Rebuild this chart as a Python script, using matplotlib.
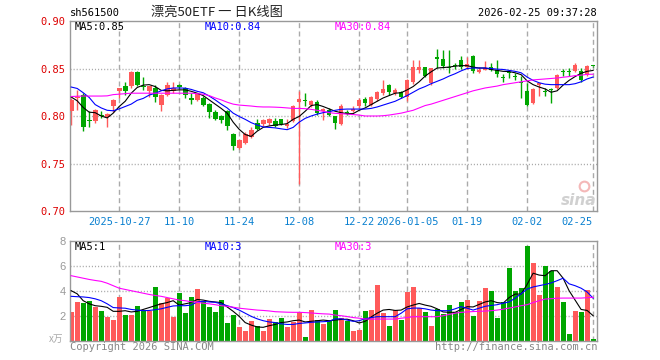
import matplotlib
matplotlib.use("Agg")
import matplotlib.pyplot as plt
import numpy as np

plt.rcParams['lines.scale_dashes'] = False

# daily candles, 2025-10-15 .. 2026-02-25
opens = [0.8048, 0.8190, 0.8223, 0.7955, 0.7944, 0.8005, 0.7990, 0.8108, 0.8259, 0.8311,
         0.8311, 0.8465, 0.8310, 0.8259, 0.8300, 0.8119, 0.8224, 0.8265, 0.8329, 0.8294,
         0.8189, 0.8164, 0.8189, 0.8126, 0.8038, 0.7996, 0.8049, 0.7814, 0.7664, 0.7716,
         0.7779, 0.7926, 0.7919, 0.7926, 0.7944, 0.7968, 0.7900, 0.7944, 0.8143, 0.8162,
         0.8112, 0.8143, 0.8049, 0.8066, 0.7996, 0.7919, 0.8038, 0.8049, 0.8101, 0.8178,
         0.8119, 0.8178, 0.8241, 0.8329, 0.8241, 0.8248, 0.8199, 0.8353, 0.8486, 0.8514,
         0.8346, 0.8609, 0.8598, 0.8521, 0.8535, 0.8591, 0.8514, 0.8633, 0.8458, 0.8486,
         0.8514, 0.8479, 0.8400, 0.8452, 0.8412, 0.8348, 0.8259, 0.8136, 0.8329, 0.8261,
         0.8278, 0.8294, 0.8463, 0.8463, 0.8469, 0.8469, 0.8434, 0.8528]
closes = [0.8171, 0.8205, 0.7884, 0.7950, 0.8066, 0.8000, 0.8024, 0.8171, 0.8293, 0.8259,
          0.8465, 0.8329, 0.8304, 0.8311, 0.8196, 0.8224, 0.8329, 0.8290, 0.8304, 0.8224,
          0.8164, 0.8234, 0.8119, 0.8038, 0.7968, 0.7961, 0.7891, 0.7688, 0.7751, 0.7814,
          0.7856, 0.7863, 0.7961, 0.7968, 0.7898, 0.7919, 0.7920, 0.8108, 0.8178, 0.8157,
          0.8161, 0.8031, 0.8077, 0.8014, 0.7926, 0.8108, 0.8035, 0.8073, 0.8171, 0.8136,
          0.8199, 0.8248, 0.8283, 0.8248, 0.8269, 0.8199, 0.8381, 0.8514, 0.8514, 0.8423,
          0.8504, 0.8605, 0.8528, 0.8507, 0.8530, 0.8514, 0.8549, 0.8469, 0.8486, 0.8507,
          0.8486, 0.8437, 0.8395, 0.8448, 0.8408, 0.8344, 0.8119, 0.8283, 0.8346, 0.8257,
          0.8274, 0.8434, 0.8460, 0.8460, 0.8539, 0.8374, 0.8528, 0.8524]
highs = [0.8190, 0.8270, 0.8240, 0.8049, 0.8076, 0.8050, 0.8030, 0.8180, 0.8300, 0.8353,
         0.8475, 0.8470, 0.8410, 0.8315, 0.8330, 0.8230, 0.8353, 0.8353, 0.8340, 0.8310,
         0.8241, 0.8240, 0.8210, 0.8135, 0.8059, 0.8013, 0.8060, 0.7820, 0.7760, 0.7830,
         0.7884, 0.7968, 0.7970, 0.7975, 0.7975, 0.7970, 0.7968, 0.8120, 0.8259, 0.8240,
         0.8170, 0.8171, 0.8080, 0.8080, 0.8000, 0.8129, 0.8066, 0.8108, 0.8189, 0.8199,
         0.8213, 0.8259, 0.8374, 0.8340, 0.8294, 0.8260, 0.8388, 0.8590, 0.8591, 0.8520,
         0.8510, 0.8703, 0.8696, 0.8696, 0.8563, 0.8633, 0.8626, 0.8640, 0.8520, 0.8574,
         0.8556, 0.8591, 0.8441, 0.8486, 0.8450, 0.8423, 0.8346, 0.8290, 0.8350, 0.8294,
         0.8294, 0.8440, 0.8493, 0.8504, 0.8563, 0.8504, 0.8539, 0.8528]
lows = [0.7909, 0.8060, 0.7839, 0.7884, 0.7926, 0.7980, 0.7884, 0.8038, 0.8190, 0.8223,
        0.8300, 0.8320, 0.8270, 0.8200, 0.8150, 0.8049, 0.8206, 0.8240, 0.8280, 0.8189,
        0.8129, 0.8154, 0.8110, 0.7979, 0.7954, 0.7926, 0.7856, 0.7646, 0.7653, 0.7710,
        0.7769, 0.7856, 0.7890, 0.7910, 0.7880, 0.7910, 0.7874, 0.7935, 0.7280, 0.8110,
        0.8100, 0.8014, 0.7960, 0.8003, 0.7863, 0.7910, 0.8014, 0.8040, 0.8084, 0.8108,
        0.8110, 0.8160, 0.8224, 0.8224, 0.8224, 0.8189, 0.8154, 0.8340, 0.8451, 0.8410,
        0.8329, 0.8504, 0.8510, 0.8451, 0.8493, 0.8500, 0.8500, 0.8451, 0.8451, 0.8479,
        0.8475, 0.8409, 0.8353, 0.8399, 0.8380, 0.8188, 0.8101, 0.8129, 0.8206, 0.8213,
        0.8136, 0.8283, 0.8416, 0.8423, 0.8460, 0.8360, 0.8423, 0.8520]

ma5 = [0.8200, 0.8160, 0.8090, 0.8040, 0.8035, 0.8000, 0.7980, 0.8030, 0.8100, 0.8155,
       0.8240, 0.8300, 0.8325, 0.8330, 0.8310, 0.8270, 0.8265, 0.8270, 0.8275, 0.8275,
       0.8260, 0.8240, 0.8215, 0.8170, 0.8125, 0.8080, 0.8030, 0.7935, 0.7860, 0.7805,
       0.7785, 0.7840, 0.7880, 0.7895, 0.7905, 0.7910, 0.7920, 0.7965, 0.7995, 0.8050,
       0.8110, 0.8120, 0.8100, 0.8075, 0.8050, 0.8035, 0.8025, 0.8025, 0.8060, 0.8085,
       0.8120, 0.8155, 0.8190, 0.8215, 0.8240, 0.8245, 0.8275, 0.8310, 0.8360, 0.8420,
       0.8465, 0.8505, 0.8510, 0.8515, 0.8525, 0.8530, 0.8530, 0.8515, 0.8505, 0.8505,
       0.8490, 0.8480, 0.8470, 0.8468, 0.8455, 0.8435, 0.8370, 0.8330, 0.8305, 0.8285,
       0.8250, 0.8265, 0.8325, 0.8375, 0.8415, 0.8450, 0.8470, 0.8480]
ma10 = [0.8305, 0.8290, 0.8245, 0.8195, 0.8120, 0.8085, 0.8060, 0.8055, 0.8075, 0.8100,
        0.8125, 0.8165, 0.8185, 0.8220, 0.8240, 0.8265, 0.8285, 0.8295, 0.8295, 0.8293,
        0.8280, 0.8260, 0.8245, 0.8210, 0.8170, 0.8125, 0.8085, 0.8030, 0.7995, 0.7965,
        0.7930, 0.7905, 0.7885, 0.7880, 0.7875, 0.7865, 0.7856, 0.7880, 0.7935, 0.7975,
        0.8000, 0.8020, 0.8035, 0.8045, 0.8060, 0.8070, 0.8073, 0.8073, 0.8073, 0.8073,
        0.8080, 0.8095, 0.8115, 0.8135, 0.8155, 0.8185, 0.8215, 0.8250, 0.8285, 0.8310,
        0.8340, 0.8365, 0.8390, 0.8420, 0.8445, 0.8475, 0.8500, 0.8505, 0.8505, 0.8505,
        0.8500, 0.8493, 0.8490, 0.8480, 0.8470, 0.8455, 0.8410, 0.8375, 0.8350, 0.8335,
        0.8330, 0.8330, 0.8330, 0.8330, 0.8340, 0.8360, 0.8390, 0.8410]
ma30 = [0.8205, 0.8208, 0.8210, 0.8210, 0.8210, 0.8210, 0.8212, 0.8225, 0.8230, 0.8235,
        0.8240, 0.8240, 0.8240, 0.8240, 0.8240, 0.8240, 0.8240, 0.8240, 0.8240, 0.8240,
        0.8240, 0.8235, 0.8230, 0.8215, 0.8190, 0.8170, 0.8145, 0.8125, 0.8115, 0.8110,
        0.8105, 0.8098, 0.8095, 0.8095, 0.8093, 0.8090, 0.8085, 0.8080, 0.8080, 0.8077,
        0.8070, 0.8060, 0.8050, 0.8035, 0.8028, 0.8024, 0.8020, 0.8015, 0.8010, 0.8000,
        0.8000, 0.8000, 0.8003, 0.8010, 0.8020, 0.8030, 0.8045, 0.8060, 0.8085, 0.8110,
        0.8125, 0.8145, 0.8165, 0.8185, 0.8205, 0.8225, 0.8245, 0.8265, 0.8280, 0.8295,
        0.8305, 0.8315, 0.8330, 0.8340, 0.8350, 0.8360, 0.8370, 0.8380, 0.8385, 0.8390,
        0.8395, 0.8400, 0.8408, 0.8415, 0.8425, 0.8430, 0.8438, 0.8440]

# volume (万)
volume = [2.27, 3.07, 2.99, 3.20, 2.67, 2.40, 1.87, 1.68, 3.52, 2.08,
          2.08, 2.80, 2.45, 2.40, 4.32, 2.99, 3.41, 1.87, 3.79, 2.19,
          3.52, 4.13, 3.20, 2.67, 2.27, 3.28, 1.39, 2.08, 1.12, 0.80,
          1.55, 1.20, 0.80, 1.73, 1.47, 1.81, 1.07, 1.47, 2.32, 0.32,
          2.48, 1.65, 1.33, 1.55, 2.45, 1.81, 1.55, 0.75, 0.88, 2.40,
          2.48, 4.48, 2.19, 1.20, 2.48, 1.65, 3.87, 4.32, 2.59, 2.27,
          1.20, 2.53, 2.13, 2.88, 2.27, 3.07, 3.28, 1.95, 3.15, 4.19,
          4.00, 1.79, 3.07, 5.79, 4.00, 4.21, 7.60, 6.19, 3.68, 5.95,
          5.55, 4.32, 3.12, 0.53, 2.40, 2.32, 4.05, 0.13]
vma5 = [4.00, 3.75, 3.20, 2.95, 2.80, 2.75, 2.67, 2.35, 2.35, 2.40,
        2.30, 2.35, 2.50, 2.65, 2.80, 2.95, 3.05, 3.20, 2.85, 2.95,
        3.05, 3.30, 3.25, 3.15, 3.10, 3.05, 2.70, 2.35, 1.95, 1.45,
        1.25, 1.10, 1.07, 1.20, 1.30, 1.45, 1.50, 1.60, 1.65, 1.50,
        1.55, 1.60, 1.65, 1.60, 1.65, 1.70, 1.72, 1.60, 1.42, 1.55,
        1.90, 2.20, 2.45, 2.50, 2.42, 2.45, 2.70, 2.85, 2.98, 2.85,
        2.75, 2.55, 2.30, 2.27, 2.27, 2.50, 2.72, 2.70, 2.90, 3.10,
        3.20, 3.05, 3.00, 3.45, 3.73, 3.73, 4.50, 5.40, 5.25, 5.20,
        5.60, 5.60, 5.00, 4.00, 3.25, 2.50, 2.42, 2.00]
vma10 = [3.55, 3.52, 3.50, 3.45, 3.35, 3.20, 2.95, 2.65, 2.62, 2.60,
         2.50, 2.45, 2.40, 2.42, 2.48, 2.55, 2.67, 2.78, 2.80, 2.80,
         2.85, 3.10, 3.15, 3.10, 3.07, 2.95, 2.80, 2.65, 2.45, 2.20,
         1.95, 1.75, 1.60, 1.50, 1.45, 1.35, 1.30, 1.30, 1.38, 1.42,
         1.47, 1.50, 1.52, 1.55, 1.75, 1.75, 1.65, 1.55, 1.60, 1.75,
         1.85, 1.92, 1.92, 1.92, 1.92, 2.20, 2.55, 2.61, 2.61, 2.55,
         2.45, 2.40, 2.40, 2.40, 2.55, 2.72, 2.60, 2.45, 2.60, 2.75,
         2.82, 2.88, 3.00, 3.10, 3.40, 3.75, 4.13, 4.30, 4.40, 4.50,
         4.62, 4.80, 5.00, 4.55, 4.40, 4.20, 3.90, 3.40]
vma30 = [5.20, 5.10, 5.00, 4.90, 4.82, 4.75, 4.60, 4.40, 4.20, 4.10,
         4.00, 3.90, 3.80, 3.70, 3.62, 3.55, 3.45, 3.35, 3.25, 3.20,
         3.12, 3.07, 3.00, 2.95, 2.88, 2.80, 2.75, 2.68, 2.60, 2.55,
         2.50, 2.45, 2.42, 2.38, 2.32, 2.30, 2.28, 2.27, 2.27, 2.25,
         2.22, 2.18, 2.15, 2.13, 2.05, 2.00, 1.93, 1.85, 1.80, 1.73,
         1.73, 1.73, 1.73, 1.73, 1.73, 1.80, 1.85, 1.92, 1.92, 1.92,
         1.92, 1.92, 2.00, 2.10, 2.20, 2.27, 2.30, 2.33, 2.35, 2.37,
         2.40, 2.45, 2.52, 2.61, 2.70, 2.80, 2.88, 3.05, 3.20, 3.33,
         3.36, 3.40, 3.41, 3.41, 3.41, 3.41, 3.44, 3.47]

tick_pos = [8, 18, 28, 38, 48, 56, 66, 76, 87]
tick_labels = ['2025-10-27', '11-10', '11-24', '12-08', '12-22', '2026-01-05',
               '01-19', '02-02', '02-25']

RED = '#ff5a5a'
GREEN = '#00a600'
GRID = '#aaaaaa'
MONO = 'DejaVu Sans Mono'

W, H = 660, 360
fig = plt.figure(figsize=(6.6, 3.6), dpi=100)
ax = fig.add_axes([70 / W, 149 / H, 527 / W, 190 / H])
axv = fig.add_axes([70 / W, 19.3 / H, 527 / W, 100 / H])

x = np.arange(len(opens))
o = np.array(opens); c = np.array(closes)
colors = [RED if cc >= oo else GREEN for oo, cc in zip(o, c)]

for a in (ax, axv):
    a.set_xlim(-0.2, 87.65)
    for s in a.spines.values():
        s.set_color('#999999')
        s.set_linewidth(1)
    for t in tick_pos:
        a.axvline(t, color=GRID, lw=1, ls=(0, (3.6, 2.4)), zorder=0)

# candles
ax.vlines(x, lows, highs, colors=colors, lw=1, zorder=2)
bottoms = np.minimum(o, c)
heights = np.maximum(np.abs(c - o), 0.0011)
ax.bar(x, heights, bottom=bottoms, width=0.78, color=colors, lw=0, zorder=3)

ax.plot(x, ma5, color='black', lw=0.8, zorder=4)
ax.plot(x, ma10, color='#0000ff', lw=0.8, zorder=4)
ax.plot(x, ma30, color='#ff00ff', lw=0.8, zorder=4)

ax.set_ylim(0.70, 0.90)
ax.set_yticks([0.70, 0.75, 0.80, 0.85, 0.90])
ax.set_yticklabels(['0.70', '0.75', '0.80', '0.85', '0.90'], color='#dd0000',
                   family=MONO, fontsize=7.5)
for yv in [0.75, 0.80, 0.85]:
    ax.axhline(yv, color=GRID, lw=1, ls=(0, (0.8, 1.4)), zorder=0)
ax.set_xticks(tick_pos)
ax.set_xticklabels(tick_labels, color='#0a80d0', family=MONO, fontsize=7.5)
ax.xaxis.get_ticklabels()[-1].set_ha('right')
ax.tick_params(length=0, pad=3.5)
ax.tick_params(axis='x', pad=4)

# sina watermark (logo swirl as a marker, word as text)
ax.plot([0.975], [0.13], transform=ax.transAxes, marker='o', ms=7, mfc='none',
        mec='#f4b8b8', mew=1.5, zorder=1)
ax.text(0.998, 0.055, 'sina', transform=ax.transAxes, family='DejaVu Sans',
        fontsize=11, color='#d0d0d0', ha='right', va='center', style='italic',
        weight='bold', zorder=1)

# volume
axv.bar(x, volume, width=0.8, color=colors, lw=0, zorder=2)
axv.plot(x, vma5, color='black', lw=0.8, zorder=4)
axv.plot(x, vma10, color='#0000ff', lw=0.8, zorder=4)
axv.plot(x, vma30, color='#ff00ff', lw=0.8, zorder=4)
axv.set_ylim(0, 8)
axv.set_yticks([2, 4, 6, 8])
axv.set_yticklabels(['2', '4', '6', '8'], color='#999999', family='Liberation Sans',
                    fontsize=8)
for yv in [2, 4, 6]:
    axv.axhline(yv, color=GRID, lw=1, ls=(0, (0.8, 1.4)), zorder=0)
axv.set_xticks([])
axv.tick_params(length=0, pad=3)


def ftext(px, py, s, **kw):
    fig.text(px / W, 1 - py / H, s, va='center', **kw)


ftext(70, 13, 'sh561500', family=MONO, fontsize=7.5, color='black')
ftext(217, 12.5, '漂亮50ETF 一 日K线图', family=['Noto Sans CJK SC', 'DejaVu Sans'],
      fontsize=9.5, color='#222222', ha='center')
ftext(597, 13, '2026-02-25 09:37:28', family=MONO, fontsize=7.5, color='black', ha='right')

ftext(75, 26.5, 'MA5:0.85', family=MONO, fontsize=7.5, color='black')
ftext(205, 26.5, 'MA10:0.84', family=MONO, fontsize=7.5, color='#0000ff')
ftext(335, 26.5, 'MA30:0.84', family=MONO, fontsize=7.5, color='#ff00ff')

ftext(75, 246.5, 'MA5:1', family=MONO, fontsize=7.5, color='black')
ftext(205, 246.5, 'MA10:3', family=MONO, fontsize=7.5, color='#0000ff')
ftext(335, 246.5, 'MA30:3', family=MONO, fontsize=7.5, color='#ff00ff')

ftext(63, 339, 'x万', family=['Noto Sans CJK SC', 'DejaVu Sans'], fontsize=7,
      color='#aaaaaa', ha='right', style='italic')
ftext(70, 346.5, 'Copyright 2026 SINA.COM', family=MONO, fontsize=7.5, color='#888888')
ftext(597, 346.5, 'http://finance.sina.com.cn', family=MONO, fontsize=7.5,
      color='#888888', ha='right')

fig.savefig('out.png', dpi=100)
